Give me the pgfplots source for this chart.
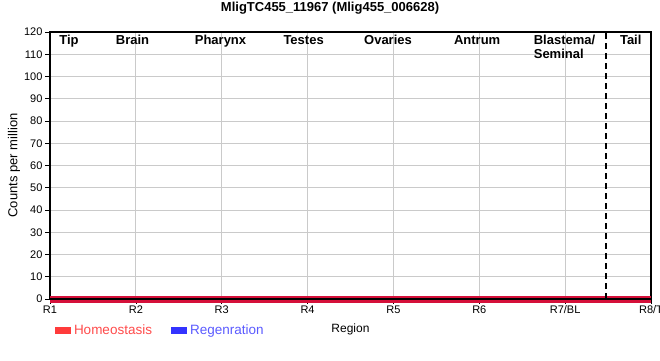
\documentclass[border=0pt]{standalone}
\usepackage{pgfplots}
\pgfplotsset{compat=1.18}
\usepackage{fontspec}
\setmainfont{Liberation Sans}
\definecolor{homeo}{HTML}{FF3B3B}
\definecolor{homeotxt}{HTML}{FF4A4A}
\definecolor{regen}{HTML}{3333FF}
\definecolor{regentxt}{HTML}{5A5AFF}
\definecolor{lineRed}{HTML}{D5103A}
\definecolor{gridgray}{HTML}{CACACA}
\begin{document}
\begin{tikzpicture}
\useasboundingbox (0pt,0pt) rectangle (660pt,360pt);
\begin{axis}[
  at={(50pt,61pt)}, anchor=south west,
  scale only axis, width=601pt, height=267pt,
  xmin=0, xmax=7, ymin=0, ymax=120,
  xtick={0,1,2,3,4,5,6,7},
  xticklabels={R1,R2,R3,R4,R5,R6,R7/BL,R8/T},
  ytick={0,10,...,120},
  grid=major, grid style={draw=gridgray, line width=0.9pt},
  axis line style={black, line width=2pt},
  tick align=outside, tick pos=left,
  major tick length=5pt,
  tick style={black, line width=0.7pt},
  ticklabel style={font=\fontsize{11}{12}\selectfont},
  /pgf/number format/assume math mode=true,
  yticklabel style={xshift=1pt},
  xticklabel style={yshift=2pt},
  ylabel={\fontsize{13}{14}\selectfont Counts per million},
  ylabel style={at={(axis description cs:-0.0599,0.5)}, anchor=center},
  xlabel={\fontsize{12}{13}\selectfont Region},
  xlabel style={at={(axis description cs:0.5,0)}, anchor=base, yshift=-33pt},
  title={\bfseries\fontsize{13}{14}\selectfont MligTC455\_11967 (Mlig455\_006628)},
  title style={at={(axis description cs:0.466,1)}, anchor=base, yshift=15pt},
  legend style={at={(axis description cs:0,0)}, anchor=west, xshift=5pt, yshift=-31pt,
    draw=none, fill=none, legend columns=2, font=\fontsize{13.5}{14}\selectfont,
    inner sep=0pt, outer sep=0pt,
    /tikz/every odd column/.append style={column sep=1pt},
    /tikz/every even column/.append style={column sep=17pt}},
  legend cell align=left,
  legend image code/.code={\fill[#1] (0pt,-3.5pt) rectangle (16pt,3.5pt);},
  clip=false,
]
\addplot[regen, line width=7pt, forget plot] coordinates {(0,0) (1,0) (2,0) (3,0) (4,0) (5,0) (6,0) (7,0)};
\addplot[lineRed, line width=7pt, forget plot] coordinates {(0,0) (1,0) (2,0) (3,0) (4,0) (5,0) (6,0) (7,0)};
\addplot[black, line width=2.5pt, forget plot] coordinates {(0,0) (7,0)};
\addplot[black, line width=2pt, dash pattern=on 6pt off 4pt, forget plot] coordinates {(6.48,0) (6.48,120)};
\addlegendimage{fill=homeo, draw=none}
\addlegendentry{\textcolor{homeotxt}{Homeostasis}}
\addlegendimage{fill=regen, draw=none}
\addlegendentry{\textcolor{regentxt}{Regenration}}
\begin{scope}[every node/.style={font=\bfseries\fontsize{13}{14}\selectfont, anchor=base, inner sep=0pt}]
\node at (axis cs:0.221,114.6) {Tip};
\node at (axis cs:0.961,114.6) {Brain};
\node at (axis cs:1.986,114.6) {Pharynx};
\node at (axis cs:2.954,114.6) {Testes};
\node at (axis cs:3.937,114.6) {Ovaries};
\node at (axis cs:4.975,114.6) {Antrum};
\node[anchor=base west] at (axis cs:5.633,114.6) {Blastema/};
\node[anchor=base west] at (axis cs:5.633,107.9) {Seminal};
\node at (axis cs:6.764,114.6) {Tail};
\end{scope}
\end{axis}
\end{tikzpicture}
\end{document}
